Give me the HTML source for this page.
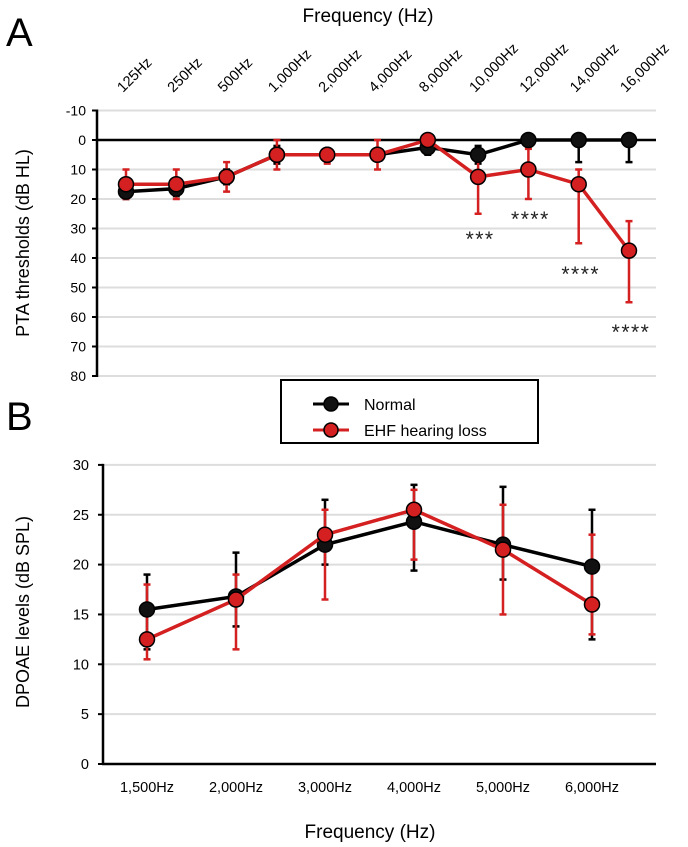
<!DOCTYPE html>
<html><head><meta charset="utf-8"><style>
body{margin:0;background:#fff;}
svg{display:block;font-family:"Liberation Sans",Arial,sans-serif;}
</style></head><body>
<svg id="c" width="688" height="847" xmlns="http://www.w3.org/2000/svg">
<text x="6" y="46" font-size="40">A</text>
<text x="6" y="430" font-size="40">B</text>
<text x="368" y="22" font-size="19" text-anchor="middle">Frequency (Hz)</text>
<text transform="translate(29,243) rotate(-90)" font-size="18" text-anchor="middle">PTA thresholds (dB HL)</text>
<text transform="translate(29,612) rotate(-90)" font-size="18" text-anchor="middle">DPOAE levels  (dB SPL)</text>
<text x="370" y="838" font-size="19" text-anchor="middle">Frequency (Hz)</text>
<g id="ga"></g><g id="gb"></g>
<g>
<rect x="281" y="380" width="257" height="63" fill="#fff" stroke="#000" stroke-width="2"/>
<line x1="313" y1="404" x2="349" y2="404" stroke="#000" stroke-width="3"/>
<circle cx="331" cy="404" r="7" fill="#111" stroke="#000" stroke-width="1.5"/>
<text x="364" y="410" font-size="16">Normal</text>
<line x1="313" y1="430" x2="349" y2="430" stroke="#d42020" stroke-width="3"/>
<circle cx="331" cy="430" r="7" fill="#d42020" stroke="#000" stroke-width="1.5"/>
<text x="364" y="436" font-size="16">EHF hearing loss</text>
</g>
</svg>
<script>
const aCats=["125Hz","250Hz","500Hz","1,000Hz","2,000Hz","4,000Hz","8,000Hz","10,000Hz","12,000Hz","14,000Hz","16,000Hz"];
const aNormal=[17.5,16.5,12.5,5,5,5,2.5,5,0,0,0];
const aNormalLo=[15,14,10,2,3,3,0,2,0,0,0];
const aNormalHi=[20,19,15,8,7,7,5,8,2,7.5,7.5];
const aEhf=[15,15,12.5,5,5,5,0,12.5,10,15,37.5];
const aEhfLo=[10,10,7.5,0,3,0,-2,7,3,10,27.5];
const aEhfHi=[20,20,17.5,10,8,10,2,25,20,35,55];
const aStars=[null,null,null,null,null,null,null,"***","****","****","****"];
const aStarY=[0,0,0,0,0,0,0,32.2,25.4,44.1,63.7];
const aTicks=[-10,0,10,20,30,40,50,60,70,80];
const bCats=["1,500Hz","2,000Hz","3,000Hz","4,000Hz","5,000Hz","6,000Hz"];
const bNormal=[15.5,16.8,22,24.3,22,19.8];
const bNormalLo=[11.5,13.8,20,19.4,18.5,12.5];
const bNormalHi=[19,21.2,26.5,28,27.8,25.5];
const bEhf=[12.5,16.5,23,25.5,21.5,16];
const bEhfLo=[10.5,11.5,16.5,20.5,15,13];
const bEhfHi=[18,19,25.5,27.5,26,23];
const bTicks=[0,5,10,15,20,25,30];

const NS="http://www.w3.org/2000/svg";
function mk(p,t,a){const e=document.createElementNS(NS,t);for(const k in a)e.setAttribute(k,a[k]);p.appendChild(e);return e;}
const RED="#d42020";
const ga=document.getElementById('ga');
const ax=i=>126+i*50.3, ay=v=>140+v*2.95;
aTicks.forEach(t=>{
 const g=mk(ga,'line',{x1:97,x2:656,y1:ay(t),y2:ay(t),stroke:t===0?'#000':'#ddd','stroke-width':t===0?2.5:2});
 
 
 const tk=mk(ga,'line',{x1:92,x2:97,y1:ay(t),y2:ay(t),stroke:'#000','stroke-width':2});
 
 
 const tx=mk(ga,'text',{x:86,y:ay(t)+5,'font-size':14,'text-anchor':'end'});tx.textContent=t;
 
 
});
const axl=mk(ga,'line',{x1:97,x2:97,y1:ay(-10)-1,y2:ay(80)+1,stroke:'#000','stroke-width':2.5});


aCats.forEach((c,i)=>{
 const t=mk(ga,'text',{transform:`translate(${ax(i)-3},93) rotate(-45)`,'font-size':14.5});t.textContent=c;
 
 
});
function series(g,n,xf,yf,vals,lo,hi,col,name){
 vals.forEach((v,i)=>{
  const e=mk(g,'line',{x1:xf(i),x2:xf(i),y1:yf(lo[i]),y2:yf(hi[i]),stroke:col,'stroke-width':2.5});
  
  
  [lo[i],hi[i]].forEach(b=>{const c=mk(g,'line',{x1:xf(i)-3.5,x2:xf(i)+3.5,y1:yf(b),y2:yf(b),stroke:col,'stroke-width':2.5});
   
   });
 });
}
function line(g,xf,yf,vals,col,fill,name){
 const l=mk(g,'polyline',{points:vals.map((v,i)=>xf(i)+','+yf(v)).join(' '),fill:'none',stroke:col,'stroke-width':3.5});
 
 
 vals.forEach((v,i)=>{const p=mk(g,'circle',{cx:xf(i),cy:yf(v),r:7.5,fill:fill,stroke:'#000','stroke-width':1.5});
  
  });
}
series(ga,0,ax,ay,aNormal,aNormalLo,aNormalHi,'#000','normal-a');
series(ga,0,ax,ay,aEhf,aEhfLo,aEhfHi,RED,'ehf-a');
line(ga,ax,ay,aNormal,'#000','#111','normal-a');
line(ga,ax,ay,aEhf,RED,RED,'ehf-a');
aStars.forEach((s,i)=>{if(!s)return;
 const t=mk(ga,'text',{x:ax(i)+2,y:ay(aStarY[i])+11,'font-size':21,'letter-spacing':1.5,'text-anchor':'middle',fill:'#222'});t.textContent=s;
 
 });
const gb=document.getElementById('gb');
const bx=i=>147+i*89, by=v=>764-v*9.97;
bTicks.forEach(t=>{
 if(t>0){const g=mk(gb,'line',{x1:103,x2:656,y1:by(t),y2:by(t),stroke:'#ddd','stroke-width':2});
 
 }
 const tk=mk(gb,'line',{x1:98,x2:103,y1:by(t),y2:by(t),stroke:'#000','stroke-width':2});
 
 
 const tx=mk(gb,'text',{x:89,y:by(t)+5,'font-size':14.5,'text-anchor':'end'});tx.textContent=t;
 
 
});
const bya=mk(gb,'line',{x1:103,x2:103,y1:by(30)-1,y2:by(0),stroke:'#000','stroke-width':2.5});


const bxa=mk(gb,'line',{x1:102,x2:656,y1:by(0),y2:by(0),stroke:'#000','stroke-width':2.5});


bCats.forEach((c,i)=>{
 const t=mk(gb,'text',{x:bx(i),y:792,'font-size':14.5,'text-anchor':'middle'});t.textContent=c;
 
 
});
series(gb,0,bx,by,bNormal,bNormalLo,bNormalHi,'#000','normal-b');
series(gb,0,bx,by,bEhf,bEhfLo,bEhfHi,RED,'ehf-b');
line(gb,bx,by,bNormal,'#000','#111','normal-b');
line(gb,bx,by,bEhf,RED,RED,'ehf-b');
</script>
</body></html>
